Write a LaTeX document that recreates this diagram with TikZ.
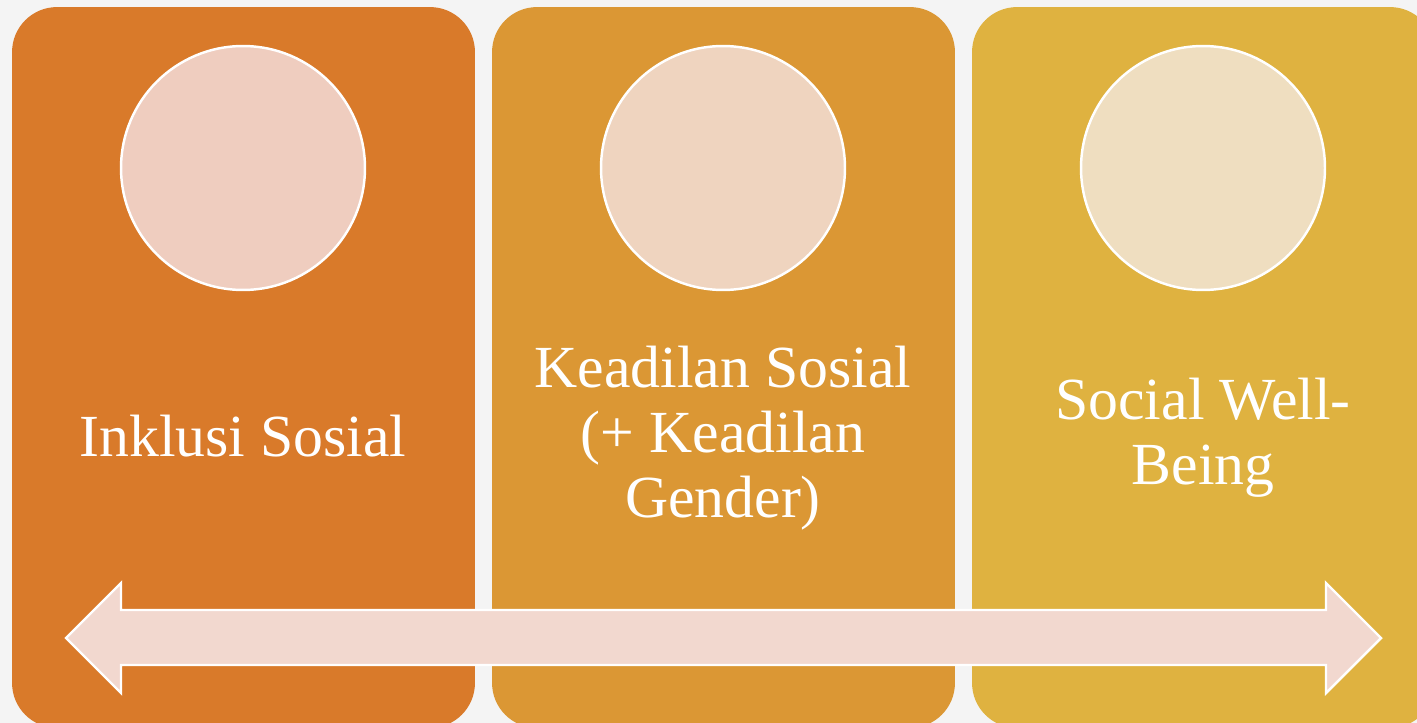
\documentclass[tikz,border=0pt]{standalone}
\usepackage{fontspec}
\setmainfont{Liberation Serif}
\usepackage{tikz}

\definecolor{bgGray}{HTML}{F4F4F4}
\definecolor{panelA}{HTML}{D97A2A}
\definecolor{panelB}{HTML}{DB9734}
\definecolor{panelC}{HTML}{DFB240}
\definecolor{discA}{HTML}{EFCDBF}
\definecolor{discB}{HTML}{EFD4BF}
\definecolor{discC}{HTML}{EFDEC0}
\definecolor{arrowFill}{HTML}{F2D8CF}

\begin{document}
\begin{tikzpicture}[x=0.02cm, y=-0.02cm,
        panel/.style={draw=none, rounded corners=0.9cm, inner sep=0pt,
                      minimum width=9.26cm, minimum height=14.42cm},
        disc/.style={circle, draw=white, line width=1.4pt, inner sep=0pt,
                     minimum size=4.88cm},
        label/.style={text=white, align=center, font=\fontsize{34}{37}\selectfont}
      ]
      \useasboundingbox (0,0) rectangle (1417,723);
      \fill[bgGray] (0,0) rectangle (1417,723);
      \clip (0,0) rectangle (1417,723);

      % panels
      \node[panel, fill=panelA] (inklusi) at (243.5,367.5) {};
      \node[panel, fill=panelB] (keadilan) at (723.5,367.5) {};
      \node[panel, fill=panelC] (wellbeing) at (1203.5,367.5) {};

      % discs
      \node[disc, fill=discA] (discInklusi) at (243,168) {};
      \node[disc, fill=discB] (discKeadilan) at (723,168) {};
      \node[disc, fill=discC] (discWellbeing) at (1203,168) {};

      % labels
      \node[label] (txtInklusi) at (243,436) {Inklusi Sosial};
      \node[label] (txtKeadilan) at (723,438) {Keadilan Sosial\\(+ Keadilan\\Gender)};
      \node[label] (txtWellbeing) at (1203,438) {Social Well-\\Being};

      % double arrow
      \coordinate (tipL) at (66,638);
      \coordinate (tipR) at (1381,638);
      \draw[white, line width=1.4pt, fill=arrowFill, line join=miter]
        (tipL) -- (121,583) -- (121,610) -- (1326,610) -- (1326,583)
        -- (tipR) -- (1326,693) -- (1326,665) -- (121,665) -- (121,693) -- cycle;
    \end{tikzpicture}
\end{document}
